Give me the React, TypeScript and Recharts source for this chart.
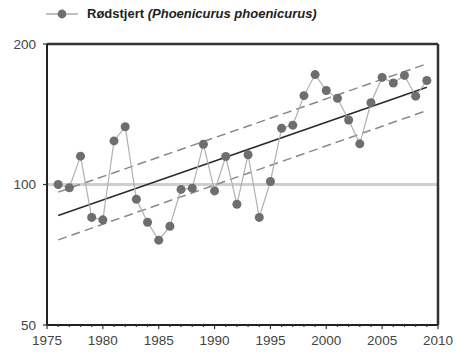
import React from 'react';
import { LineChart, Line, XAxis, YAxis, ReferenceLine } from 'recharts';

// index values per year (log scale, 100 = reference level)
const years = [
  1976, 1977, 1978, 1979, 1980, 1981, 1982, 1983, 1984, 1985, 1986, 1987,
  1988, 1989, 1990, 1991, 1992, 1993, 1994, 1995, 1996, 1997, 1998, 1999,
  2000, 2001, 2002, 2003, 2004, 2005, 2006, 2007, 2008, 2009,
];
const values = [
  100, 98.4, 115, 85, 84, 124, 133, 93, 83, 76, 81.4, 97.6,
  98.2, 122, 96.9, 114.8, 90.7, 115.8, 85, 101.5, 132, 134, 155, 172,
  159, 153, 137.5, 122.2, 149.7, 169.6, 165, 171.3, 154.6, 167,
];

// regression line and confidence limits, read at the two end years
const trendYears = [1976, 2009];
const trend = [85.8, 161.6];
const upper = [96.3, 181.4];
const lower = [76.1, 144];

const xTicks = [
  1975, 1976, 1977, 1978, 1979, 1980, 1981, 1982, 1983, 1984, 1985, 1986,
  1987, 1988, 1989, 1990, 1991, 1992, 1993, 1994, 1995, 1996, 1997, 1998,
  1999, 2000, 2001, 2002, 2003, 2004, 2005, 2006, 2007, 2008, 2009, 2010,
];
const yTicks = [50, 100, 200];

const seriesName = 'Rødstjert';
const latinName = '(Phoenicurus phoenicurus)';

const font = '"Liberation Sans", Arial, sans-serif';

const data = years.map((year, i) => {
  const k = trendYears.indexOf(year);
  return {
    year,
    value: values[i],
    trend: k >= 0 ? trend[k] : null,
    upper: k >= 0 ? upper[k] : null,
    lower: k >= 0 ? lower[k] : null,
  };
});

const YearTick = (props: any) => {
  const { x, y, payload } = props;
  const axisY = y - 6;
  const major = payload.value % 5 === 0;
  return (
    <g>
      <line x1={x} x2={x} y1={axisY} y2={axisY + (major ? 4 : 2)} stroke="#333" strokeWidth={1.2} />
      {major && (
        <text x={x} y={axisY + 20} textAnchor="middle" fill="#444" fontSize={13.5} fontFamily={font}>
          {payload.value}
        </text>
      )}
    </g>
  );
};

const App = () => {
  return (
    <div style={{ position: 'absolute', left: 0, top: 0, width: 457, height: 356, background: '#fff' }}>
      <div
        style={{
          position: 'absolute',
          left: 46,
          top: 6,
          display: 'flex',
          alignItems: 'center',
          fontFamily: font,
          fontWeight: 'bold',
          fontSize: 13,
          color: '#222',
        }}
      >
        <svg width={32} height={14} style={{ marginRight: 9 }}>
          <line x1={0} x2={32} y1={7} y2={7} stroke="#aaa" strokeWidth={1.5} />
          <circle cx={16} cy={7} r={4.4} fill="#6e6e6e" />
        </svg>
        <span>
          {seriesName} <i>{latinName}</i>
        </span>
      </div>
      <LineChart width={457} height={356} data={data} margin={{ top: 44, right: 19, left: 0, bottom: 6 }}>
        <XAxis
          dataKey="year"
          type="number"
          domain={[1975, 2010]}
          ticks={xTicks}
          interval={0}
          tick={<YearTick />}
          tickLine={false}
          tickSize={4}
          tickMargin={2}
          height={25}
          axisLine={{ stroke: '#222', strokeWidth: 2 }}
        />
        <YAxis
          type="number"
          scale="log"
          domain={[50, 200]}
          ticks={yTicks}
          allowDataOverflow
          width={47}
          tick={{ fill: '#444', fontSize: 13.5, fontFamily: font }}
          tickSize={4}
          tickMargin={7}
          tickLine={{ stroke: '#333', strokeWidth: 1.2 }}
          axisLine={{ stroke: '#222', strokeWidth: 2 }}
        />
        <ReferenceLine y={100} stroke="#cfcfcf" strokeWidth={3} />
        <ReferenceLine y={200} stroke="#333" strokeWidth={2.5} />
        <ReferenceLine x={2010} stroke="#333" strokeWidth={2.5} />
        <Line dataKey="upper" stroke="#888" strokeWidth={1.5} strokeDasharray="9 5" dot={false} connectNulls isAnimationActive={false} />
        <Line dataKey="lower" stroke="#888" strokeWidth={1.5} strokeDasharray="9 5" dot={false} connectNulls isAnimationActive={false} />
        <Line dataKey="trend" stroke="#2a2a2a" strokeWidth={1.6} dot={false} connectNulls isAnimationActive={false} />
        <Line
          dataKey="value"
          stroke="#b0b0b0"
          strokeWidth={1.2}
          dot={{ r: 4.5, fill: '#6e6e6e', stroke: 'none' }}
          isAnimationActive={false}
        />
      </LineChart>
    </div>
  );
};

export default App;
